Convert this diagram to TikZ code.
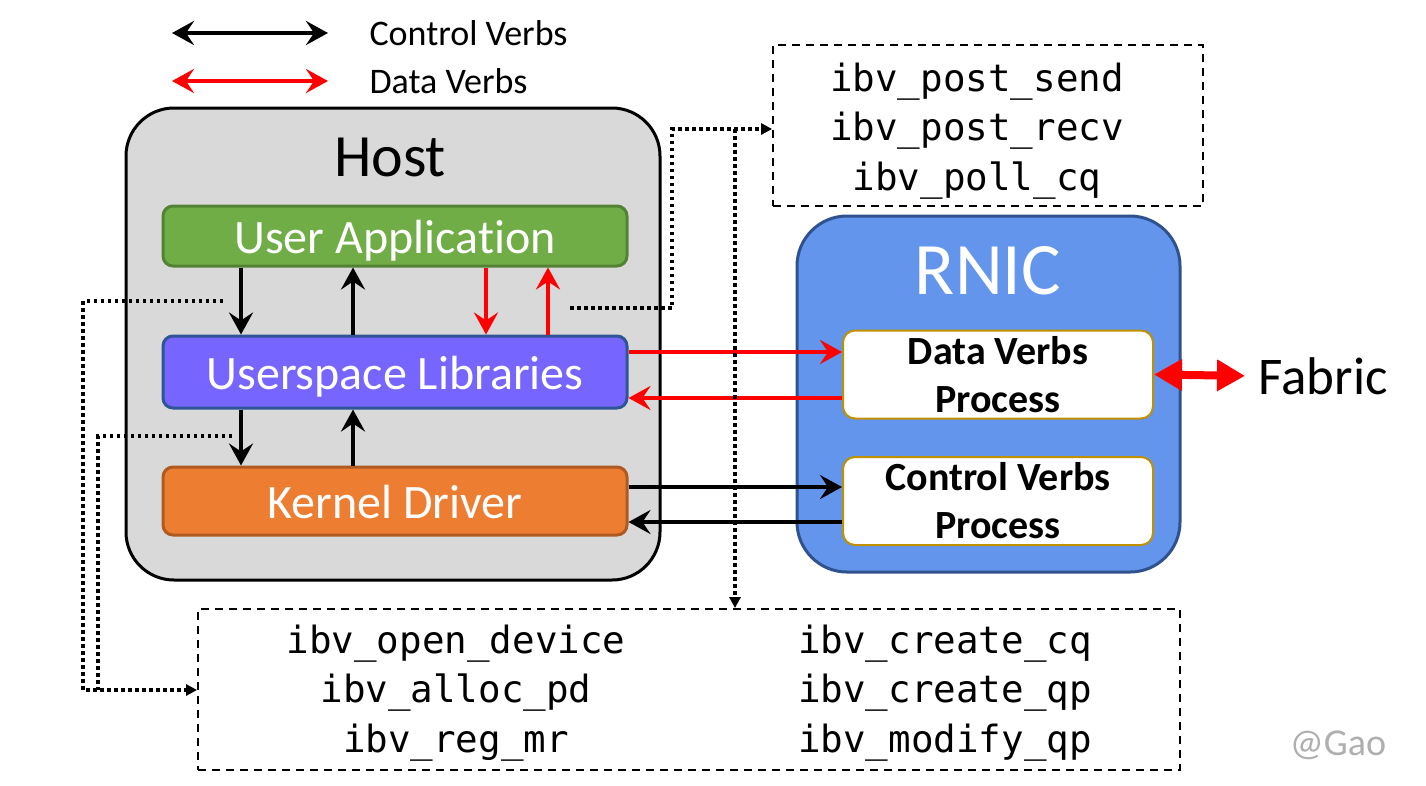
\documentclass[tikz,border=0pt]{standalone}
\usepackage{fontspec}
\setmainfont{Carlito}[Ligatures=NoCommon]
\newfontfamily\monof{DejaVu Sans Mono}
\usetikzlibrary{arrows.meta,calc}
\definecolor{hostgray}{HTML}{D9D9D9}
\definecolor{uagreen}{HTML}{70AD47}
\definecolor{uagreenb}{HTML}{548235}
\definecolor{uslpurple}{HTML}{7666FF}
\definecolor{uslblue}{HTML}{2F5597}
\definecolor{kdorange}{HTML}{ED7D31}
\definecolor{kdorangeb}{HTML}{AE5A21}
\definecolor{rnicblue}{HTML}{6495ED}
\definecolor{rnicb}{HTML}{2F528F}
\definecolor{procb}{HTML}{BF9000}
\definecolor{wm}{HTML}{AFAFAF}
\tikzset{
  sz/.style={font=\fontsize{#1}{#1}\selectfont},
  layer/.style={draw=#1, line width=3pt, rounded corners=10pt, minimum width=464pt, text=white, sz=48, text height=35pt, text depth=0pt},
  proc/.style={draw=procb, fill=white, line width=2pt, rounded corners=12pt, minimum width=310pt, minimum height=88pt, align=center, font=\fontsize{40}{48}\selectfont\bfseries},
  ctrl/.style={line width=4.5pt, -{Stealth[length=22pt,width=24pt,inset=8pt]}},
  dat/.style={ctrl, red},
  both/.style={line width=4.5pt, {Stealth[length=22pt,width=24pt,inset=8pt]}-{Stealth[length=22pt,width=24pt,inset=8pt]}},
  dotl/.style={line width=3.5pt, dash pattern=on 3.5pt off 3.5pt},
  dotarrow/.style={dotl, -{Triangle[length=11pt,width=11pt]}},
  dashbox/.style={draw, line width=1.8pt, dash pattern=on 8pt off 6pt},
  mono/.style={font=\monof\fontsize{37.5}{49.5}\selectfont, align=center}
}
\begin{document}
\begin{tikzpicture}[x=1pt,y=-1pt]
\useasboundingbox (0,0) rectangle (1426,785);
% legend
\coordinate (l1a) at (172,33); \coordinate (l1b) at (328,33);
\coordinate (l2a) at (172,81); \coordinate (l2b) at (328,81);
\draw[both] (l1a) -- (l1b);
\draw[both, red] (l2a) -- (l2b);
\node[anchor=west, sz=36] (lt1) at (366,33) {Control Verbs};
\node[anchor=west, sz=36] (lt2) at (366,81) {Data Verbs};
% host
\node[draw, fill=hostgray, line width=3pt, rounded corners=48pt, minimum width=534pt, minimum height=472pt] (host) at (393,344) {};
\node[sz=60] (hostt) at (390,157) {Host};
\node[layer=uagreenb, fill=uagreen, minimum height=60pt] (ua) at (395,236) {User Applicat\kern0pt ion};
\node[layer=uslblue, fill=uslpurple, minimum height=72pt] (usl) at (395,372) {Userspace Libraries};
\node[layer=kdorangeb, fill=kdorange, minimum height=68pt] (kd) at (395,501) {Kernel Driver};
% RNIC
\node[draw=rnicb, fill=rnicblue, line width=3pt, rounded corners=50pt, minimum width=383pt, minimum height=356pt] (rnic) at (988.5,394) {};
\node[sz=74, text=white] (rnict) at (988,271) {RNIC};
\node[proc] (dvp) at (998,374.5) {Data Verbs\\Process};
\node[proc] (cvp) at (998,501) {Control Verbs\\Process};
\node[sz=53, anchor=west] (fab) at (1255,376) {Fabric};
\draw[line width=8pt, red, shorten >=10pt, {Triangle[length=28pt,width=30pt]}-{Triangle[length=28pt,width=30pt]}] (dvp.east) -- (fab.west);
% host internal arrows
\draw[ctrl] (ua.south -| 241,0) -- (usl.north -| 241,0);
\draw[ctrl] (usl.north -| 353,0) -- (ua.south -| 353,0);
\draw[dat] (ua.south -| 486,0) -- (usl.north -| 486,0);
\draw[dat] (usl.north -| 548,0) -- (ua.south -| 548,0);
\draw[ctrl] (usl.south -| 241,0) -- (kd.north -| 241,0);
\draw[ctrl] (kd.north -| 353,0) -- (usl.south -| 353,0);
% host <-> rnic
\draw[dat] (usl.east |- 0,352) -- (dvp.west |- 0,352);
\draw[dat] (dvp.west |- 0,398) -- (usl.east |- 0,398);
\draw[ctrl] (kd.east |- 0,487) -- (cvp.west |- 0,487);
\draw[ctrl] (cvp.west |- 0,522) -- (kd.east |- 0,522);
% dashed boxes
\node[dashbox, minimum width=430pt, minimum height=161pt] (top) at (988,125.5) {};
\node[mono] (topt) at (977,131) {ibv\_post\_send\\ibv\_post\_recv\\ibv\_poll\_cq};
\node[dashbox, minimum width=982pt, minimum height=161pt] (bot) at (689,689.5) {};
\node[mono] (botl) at (456,693) {ibv\_open\_device\\ibv\_alloc\_pd\\ibv\_reg\_mr};
\node[mono] (botr) at (945,693) {ibv\_create\_cq\\ibv\_create\_qp\\ibv\_modify\_qp};
% dotted connectors
\coordinate (d1) at (223,301);
\coordinate (d2) at (232,436);
\coordinate (d3) at (570,308);
\coordinate (d4) at (735,129);
\draw[dotarrow] (d1) -| (83,690) -- (bot.west |- 0,690);
\draw[dotl] (d2) -| (98,690);
\draw[dotarrow] (d3) -| (672,129) -- (top.west |- 0,129);
\draw[dotarrow] (d4) -- (bot.north -| 735,0);
\node[sz=38, text=wm] (wmk) at (1338,745) {@Gao};
\end{tikzpicture}
\end{document}
